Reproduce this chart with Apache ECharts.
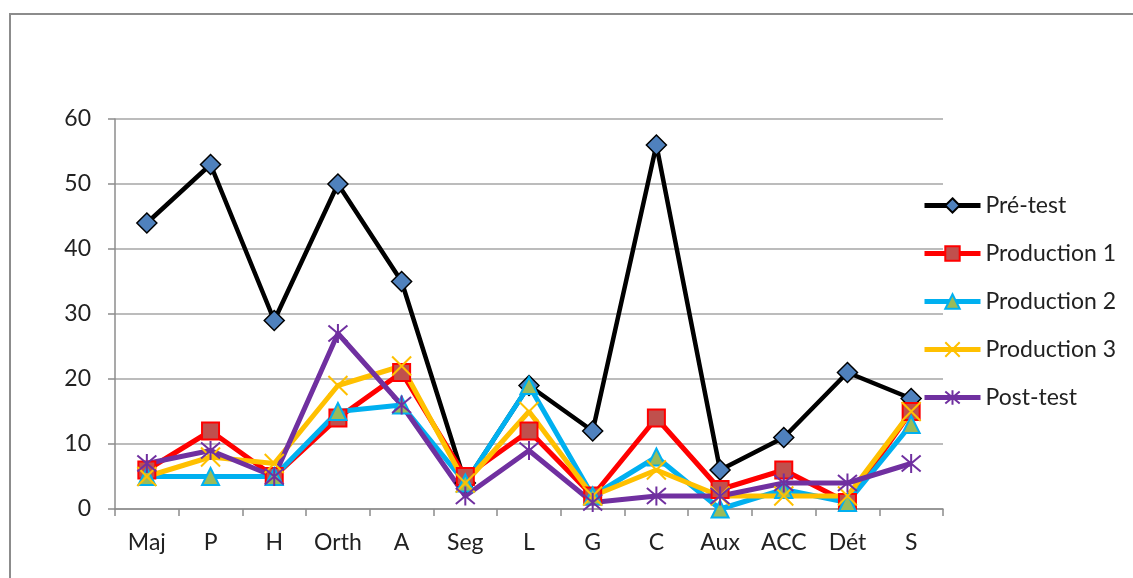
<!DOCTYPE html>
<html><head><meta charset="utf-8">
<script src="https://cdn.jsdelivr.net/npm/echarts@6/dist/echarts.min.js"></script>
<style>html,body{margin:0;padding:0;background:#fff}#c{width:1133px;height:578px}</style>
</head><body><div id="c"></div>
<script>
const categories = ['Maj','P','H','Orth','A','Seg','L','G','C','Aux','ACC','Dét','S'];
const preTest     = [44, 53, 29, 50, 35, 4, 19, 12, 56, 6, 11, 21, 17];
const production1 = [6, 12, 5, 14, 21, 5, 12, 2, 14, 3, 6, 1, 15];
const production2 = [5, 5, 5, 15, 16, 4, 19, 2, 8, 0, 3, 1, 13];
const production3 = [5, 8, 7, 19, 22, 4, 15, 2, 6, 2, 2, 2, 15];
const postTest    = [7, 9, 5, 27, 16, 2, 9, 1, 2, 2, 4, 4, 7];
const yTicks = {min: 0, max: 60, interval: 10};

const FONT = 'Lato, "Open Sans", sans-serif';
const crossPath = 'path://M0,0L10,10M10,0L0,10';
const starPath = 'path://M0,0L10,10M10,0L0,10M5,-1L5,11';

function mk(name, data, lineColor, lw, symbol, size, fill, border, bw) {
  return {
    name, type: 'line', data, symbol, symbolSize: size, showAllSymbol: true,
    lineStyle: {color: lineColor, width: lw},
    itemStyle: {color: fill, borderColor: border, borderWidth: bw},
    emphasis: {disabled: true}, animation: false, z: 2
  };
}

const chart = echarts.init(document.getElementById('c'));
chart.setOption({
  animation: false,
  graphic: [{type: 'rect', shape: {x: 10, y: 14, width: 1140, height: 620},
    style: {fill: 'none', stroke: '#8c8c8c', lineWidth: 2}, z: -10}],
  grid: {left: 115, right: 190, top: 119, bottom: 69, containLabel: false},
  legend: {
    orient: 'vertical', left: 917, top: 189, itemWidth: 56, itemHeight: 18, itemGap: 25,
    lineStyle: {width: 5},
    textStyle: {fontFamily: FONT, fontSize: 23, color: '#222', padding: [0, 0, 0, 0]},
    data: ['Pré-test','Production 1','Production 2','Production 3','Post-test']
  },
  xAxis: {
    type: 'category', data: categories, boundaryGap: true,
    axisLine: {lineStyle: {color: '#8c8c8c', width: 1.5}},
    axisTick: {show: true, length: 7, lineStyle: {color: '#8c8c8c', width: 1.5}},
    axisLabel: {fontFamily: FONT, fontSize: 23, color: '#222', margin: 22}
  },
  yAxis: {
    type: 'value', min: yTicks.min, max: yTicks.max, interval: yTicks.interval,
    axisLine: {show: true, lineStyle: {color: '#8c8c8c', width: 1.5}},
    axisTick: {show: true, length: 7, lineStyle: {color: '#8c8c8c', width: 1.5}},
    splitLine: {lineStyle: {color: '#a6a6a6', width: 1.5}},
    axisLabel: {fontFamily: FONT, fontSize: 23, color: '#222', margin: 24}
  },
  series: [
    mk('Pré-test', preTest, '#000000', 4.5, 'diamond', 20, '#4F81BD', '#000000', 1.5),
    mk('Production 1', production1, '#FF0000', 5, 'rect', 17, '#C0504D', '#FF0000', 2),
    mk('Production 2', production2, '#00B0F0', 5, 'triangle', 17, '#9BBB59', '#00B0F0', 2),
    mk('Production 3', production3, '#FFC000', 5, crossPath, 19, 'rgba(0,0,0,0)', '#FFC000', 2),
    mk('Post-test', postTest, '#7030A0', 5, starPath, 19, 'rgba(0,0,0,0)', '#7030A0', 2)
  ]
});
</script></body></html>
